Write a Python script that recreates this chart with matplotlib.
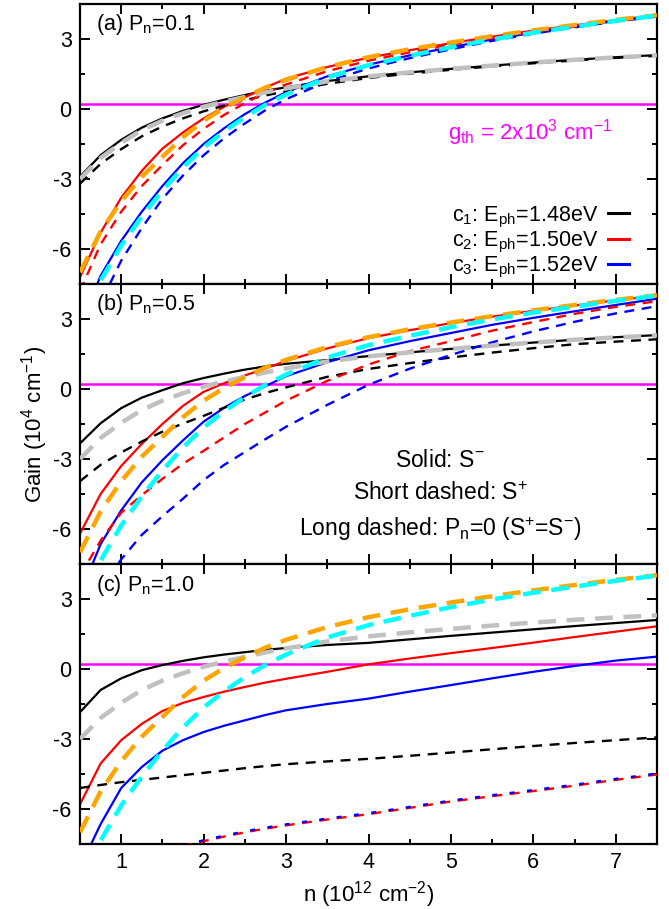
import matplotlib
matplotlib.use("Agg")
import matplotlib.pyplot as plt
from matplotlib.lines import Line2D
from matplotlib.ticker import MultipleLocator

plt.rcParams["font.family"] = ["Liberation Sans", "DejaVu Sans"]
plt.rcParams["mathtext.fontset"] = "custom"
plt.rcParams["mathtext.rm"] = "Liberation Sans"
plt.rcParams["mathtext.it"] = "Liberation Sans:italic"
plt.rcParams["axes.unicode_minus"] = False

# carrier density (10^12 cm^-2)
n = [0.5, 0.75, 1.0, 1.25, 1.5, 1.75, 2.0, 2.25, 2.5, 2.75, 3.0,
     3.5, 4.0, 4.5, 5.0, 5.5, 6.0, 6.5, 7.0, 7.5]

# P_n = 0 (long dashed), same in every panel
g0_c1 = [-3.0, -2.1, -1.45, -0.9, -0.5, -0.18, 0.1, 0.32, 0.52, 0.71, 0.88,
         1.18, 1.4, 1.57, 1.72, 1.86, 1.99, 2.11, 2.21, 2.3]
g0_c2 = [-7.0, -5.25, -3.95, -2.9, -2.05, -1.2, -0.5, 0.05, 0.5, 0.92, 1.25,
         1.8, 2.22, 2.56, 2.85, 3.12, 3.37, 3.6, 3.82, 4.02]
g0_c3 = [-9.6, -7.35, -5.85, -4.6, -3.5, -2.5, -1.65, -0.95, -0.35, 0.18, 0.62,
         1.35, 1.88, 2.28, 2.65, 2.98, 3.27, 3.53, 3.78, 4.0]

# (a) P_n = 0.1
a_minus_c1 = [-2.9, -1.98, -1.32, -0.8, -0.4, -0.08, 0.18, 0.4, 0.6, 0.78, 0.93,
              1.2, 1.4, 1.57, 1.72, 1.86, 1.99, 2.11, 2.22, 2.31]
a_plus_c1 = [-3.2, -2.35, -1.72, -1.17, -0.75, -0.4, -0.1, 0.15, 0.38, 0.58, 0.76,
             1.08, 1.33, 1.52, 1.68, 1.83, 1.96, 2.08, 2.19, 2.28]
a_minus_c2 = [-7.2, -5.3, -3.8, -2.65, -1.7, -1.0, -0.4, 0.1, 0.5, 0.92, 1.3,
              1.8, 2.2, 2.52, 2.82, 3.1, 3.36, 3.59, 3.81, 4.03]
a_plus_c2 = [-7.8, -5.8, -4.4, -3.3, -2.4, -1.55, -0.85, -0.25, 0.25, 0.7, 1.05,
             1.62, 2.07, 2.43, 2.75, 3.04, 3.31, 3.55, 3.79, 4.01]
a_minus_c3 = [-9.3, -7.15, -5.65, -4.4, -3.3, -2.32, -1.5, -0.82, -0.22, 0.28, 0.72,
              1.4, 1.9, 2.3, 2.65, 2.98, 3.27, 3.53, 3.77, 3.97]
a_plus_c3 = [-10.2, -8.3, -6.5, -5.1, -3.85, -2.85, -1.98, -1.25, -0.62, -0.05, 0.42,
             1.18, 1.74, 2.18, 2.56, 2.92, 3.23, 3.5, 3.75, 3.96]

# (b) P_n = 0.5
b_minus_c1 = [-2.33, -1.47, -0.82, -0.37, -0.05, 0.25, 0.47, 0.66, 0.83, 0.97, 1.08,
              1.24, 1.41, 1.57, 1.72, 1.86, 1.99, 2.11, 2.22, 2.31]
b_plus_c1 = [-3.95, -3.25, -2.72, -2.25, -1.83, -1.48, -1.15, -0.8, -0.45, -0.17, 0.07,
             0.52, 0.86, 1.11, 1.35, 1.56, 1.75, 1.92, 2.03, 2.13]
b_minus_c2 = [-6.2, -4.5, -3.3, -2.35, -1.5, -0.72, -0.12, 0.25, 0.58, 0.88, 1.2,
              1.74, 2.18, 2.52, 2.82, 3.1, 3.35, 3.58, 3.8, 4.0]
b_plus_c2 = [-8.0, -6.5, -5.3, -4.55, -3.85, -3.2, -2.65, -2.07, -1.5, -1.0, -0.5,
             0.35, 1.05, 1.62, 2.05, 2.5, 2.87, 3.22, 3.52, 3.76]
b_minus_c3 = [-8.8, -6.65, -5.2, -4.0, -3.05, -2.2, -1.4, -0.8, -0.3, 0.12, 0.55,
              1.15, 1.66, 2.05, 2.4, 2.75, 3.05, 3.33, 3.6, 3.87]
b_plus_c3 = [-10.8, -8.6, -7.3, -6.25, -5.45, -4.7, -3.9, -3.25, -2.7, -2.15, -1.62,
             -0.68, 0.18, 0.87, 1.46, 2.0, 2.47, 2.88, 3.24, 3.55]

# (c) P_n = 1.0
c_minus_c1 = [-1.85, -0.9, -0.4, -0.05, 0.17, 0.35, 0.5, 0.62, 0.72, 0.82, 0.9,
              1.03, 1.12, 1.27, 1.42, 1.56, 1.7, 1.84, 1.97, 2.1]
c_plus_c1 = [-5.1, -4.97, -4.85, -4.75, -4.65, -4.55, -4.45, -4.35, -4.25, -4.16, -4.08,
             -3.96, -3.85, -3.72, -3.58, -3.44, -3.3, -3.17, -3.05, -2.93]
c_minus_c2 = [-5.8, -4.05, -3.05, -2.35, -1.8, -1.45, -1.2, -0.97, -0.77, -0.58, -0.42,
              -0.12, 0.2, 0.45, 0.68, 0.9, 1.13, 1.37, 1.6, 1.83]
c_plus_c2 = [-8.6, -8.3, -8.1, -7.95, -7.8, -7.6, -7.38, -7.18, -7.0, -6.84, -6.7,
             -6.45, -6.22, -5.95, -5.68, -5.45, -5.23, -5.0, -4.75, -4.52]
c_minus_c3 = [-8.5, -6.65, -5.1, -4.2, -3.5, -3.05, -2.7, -2.43, -2.2, -1.97, -1.77,
              -1.5, -1.27, -0.97, -0.69, -0.4, -0.12, 0.13, 0.36, 0.53]
c_plus_c3 = [-8.56, -8.26, -8.06, -7.91, -7.76, -7.56, -7.34, -7.14, -6.96, -6.8, -6.66,
             -6.41, -6.18, -5.91, -5.64, -5.41, -5.19, -4.96, -4.71, -4.48]

g_th = 0.2
panels = [
    ("(a) P$_\\mathrm{n}$=0.1", a_minus_c1, a_plus_c1, a_minus_c2, a_plus_c2, a_minus_c3, a_plus_c3),
    ("(b) P$_\\mathrm{n}$=0.5", b_minus_c1, b_plus_c1, b_minus_c2, b_plus_c2, b_minus_c3, b_plus_c3),
    ("(c) P$_\\mathrm{n}$=1.0", c_minus_c1, c_plus_c1, c_minus_c2, c_plus_c2, c_minus_c3, c_plus_c3),
]

fig = plt.figure(figsize=(6.69, 9.09), dpi=100)
left, width, height = 80 / 669, 577 / 669, 280 / 909
bottoms = [1 - 284 / 909, 1 - 564 / 909, 1 - 844 / 909]

fs = 15.5
sd = dict(lw=1.7, dashes=(4.2, 3.2))
ld = dict(lw=3.2, dashes=(4.0, 2.4))

axes = []
for i, (title, m1, p1, m2, p2, m3, p3) in enumerate(panels):
    ax = fig.add_axes([left, bottoms[i], width, height])
    axes.append(ax)
    ax.axhline(g_th, color="#ff00ff", lw=1.8, zorder=1)
    ax.plot(n, m1, color="black", lw=1.6, zorder=2)
    ax.plot(n, m2, color="red", lw=1.6, zorder=2)
    ax.plot(n, m3, color="blue", lw=1.6, zorder=2)
    ax.plot(n, p1, color="black", zorder=3, **sd)
    ax.plot(n, p2, color="red", zorder=3, **sd)
    if i < 2:
        ax.plot(n, p3, color="blue", zorder=3, **sd)
    else:
        # c2 and c3 coincide here: blue shows as half of each dash
        ax.plot(n, p3, color="blue", zorder=3, lw=1.7, dashes=(2.1, 5.3))
    ax.plot(n, g0_c1, color="#c0c0c0", zorder=4, **ld)
    ax.plot(n, g0_c2, color="#ffa500", zorder=4, **ld)
    ax.plot(n, g0_c3, color="#00ffff", zorder=4, **ld)

    ax.set_xlim(0.5, 7.5)
    ax.set_ylim(-7.5, 4.5)
    ax.set_yticks([-6, -3, 0, 3])
    ax.yaxis.set_minor_locator(MultipleLocator(1.5))
    ax.xaxis.set_major_locator(MultipleLocator(1))
    ax.xaxis.set_minor_locator(MultipleLocator(0.5))
    ax.tick_params(which="both", direction="in", top=True, right=True,
                   width=1.4, labelsize=fs)
    ax.tick_params(which="major", length=7, pad=6)
    ax.tick_params(which="minor", length=3.5)
    for s in ax.spines.values():
        s.set_linewidth(1.6)
    if i < 2:
        ax.tick_params(labelbottom=False)
    ax.text(0.028, 0.925, title, transform=ax.transAxes, fontsize=fs,
            va="center", ha="left")

# panel (a) annotations
axes[0].text(0.78, 0.54, "g$_\\mathrm{th}$ = 2x10$^3$ cm$^{-1}$", color="#ff00ff",
             transform=axes[0].transAxes, fontsize=fs + 0.5, ha="center", va="center")
handles = [Line2D([], [], color="black", lw=2.2),
           Line2D([], [], color="red", lw=2.2),
           Line2D([], [], color="blue", lw=2.2)]
labels = ["c$_1$: E$_\\mathrm{ph}$=1.48eV", "c$_2$: E$_\\mathrm{ph}$=1.50eV",
          "c$_3$: E$_\\mathrm{ph}$=1.52eV"]
axes[0].legend(handles, labels, loc="lower right", bbox_to_anchor=(0.952, 0.015),
               frameon=False, markerfirst=False, fontsize=fs, handlelength=1.0,
               handletextpad=0.45, labelspacing=0.0, borderpad=0, borderaxespad=0)

# panel (b) annotations
for yy, txt in [(0.37, "Solid: S$^{-}$"), (0.25, "Short dashed: S$^{+}$"),
                (0.125, "Long dashed: P$_\\mathrm{n}$=0 (S$^{+}$=S$^{-}$)")]:
    axes[1].text(0.624, yy, txt, transform=axes[1].transAxes, fontsize=16.5,
                 ha="center", va="center")

axes[1].set_ylabel("Gain (10$^4$ cm$^{-1}$)", fontsize=fs + 0.5, labelpad=2)
axes[2].set_xlabel("n (10$^{12}$ cm$^{-2}$)", fontsize=fs + 0.5, labelpad=4)

fig.savefig("out.png", dpi=100)
